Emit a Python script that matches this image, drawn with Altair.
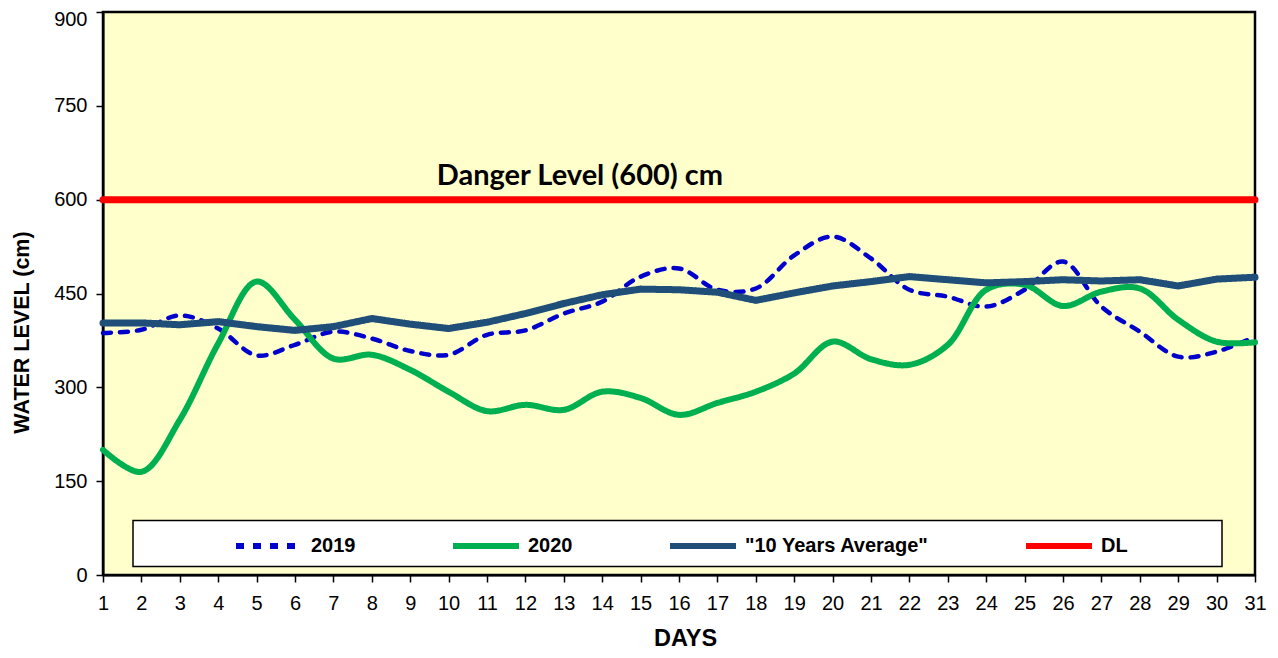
import altair as alt
import pandas as pd

days = list(range(1, 32))
level_2019 = [387, 392, 415, 394, 351, 368, 389, 378, 358, 352, 384, 391, 418, 437, 477,
              490, 456, 458, 511, 541, 506, 456, 445, 429, 456, 501, 429, 389, 349, 357, 381]
level_2020 = [200, 165, 248, 370, 469, 408, 346, 352, 328, 293, 262, 272, 264, 293, 283,
              256, 275, 293, 322, 373, 345, 336, 368, 456, 464, 430, 453, 458, 408, 373, 372]
level_avg = [403, 403, 400, 405, 397, 391, 397, 410, 401, 394, 404, 418, 434, 448, 457,
             456, 452, 439, 451, 462, 469, 477, 472, 467, 469, 472, 470, 472, 462, 473, 476]
danger_level = [600] * 31

series_names = ["2019", "2020", "\"10 Years Average\"", "DL"]
series_colors = ["#0000CC", "#00B050", "#1F4E79", "#FF0000"]
series_dash = [[8, 9], [1, 0], [1, 0], [1, 0]]

y_ticks = [0, 150, 300, 450, 600, 750, 900]

dl_label = ["Danger Level (600) cm"]
dl_label_day = [13.42]
dl_label_value = [623]

rows = []
for name, vals in zip(series_names, [level_2019, level_2020, level_avg, danger_level]):
    for d, v in zip(days, vals):
        rows.append({"day": d, "value": v, "series": name})
df = pd.DataFrame(rows)

legend = alt.Legend(
    title=None, orient="none", legendX=130, legendY=498, direction="horizontal",
    columns=4, columnPadding=85, symbolType="stroke", symbolSize=4356,
    symbolStrokeWidth=6, labelFont="Liberation Sans", labelFontSize=20,
    labelFontWeight="bold", labelColor="black", labelOffset=6, labelLimit=400,
)
color = alt.Color("series:N", scale=alt.Scale(domain=series_names, range=series_colors), legend=legend)
dash = alt.StrokeDash("series:N", scale=alt.Scale(domain=series_names, range=series_dash), legend=legend)

x_axis = alt.Axis(values=days, tickCount=31, title="DAYS", labelFlush=False, labelOverlap=False,
                  labelPadding=11,
                  titleFontSize=23.5, titleFontWeight="bold", titleX=582, titleY=70,
                  titleBaseline="alphabetic", titleAlign="center")
y_axis = alt.Axis(values=y_ticks, title="WATER LEVEL (cm)", labelPadding=9,
                  labelOffset={"condition": {"test": "datum.value == 900", "value": 7}, "value": 0},
                  titleFontSize=21.5, titleFontWeight="bold", titleX=-81, titleY=320,
                  titleBaseline="middle", titleAlign="center")
x = alt.X("day:Q", scale=alt.Scale(domain=[1, 31], nice=False, zero=False), axis=x_axis)
y = alt.Y("value:Q", scale=alt.Scale(domain=[0, 900], nice=False), axis=y_axis)

base = alt.Chart(df)


def series_layer(name, width, interp):
    return base.transform_filter(alt.datum.series == name).mark_line(
        strokeWidth=width, interpolate=interp, strokeCap="round", strokeJoin="round"
    ).encode(x=x, y=y, color=color, strokeDash=dash, detail="series:N")


box = alt.Chart(pd.DataFrame({"box": [0]})).mark_rect(
    fill="white", stroke="black", strokeWidth=1.5
).encode(x=alt.value(30), x2=alt.value(1119), y=alt.value(508.5), y2=alt.value(554.5))

label = alt.Chart(pd.DataFrame({"day": dl_label_day, "value": dl_label_value, "label": dl_label})).mark_text(
    font="Lato", fontSize=29, fontWeight="bold", align="center", baseline="alphabetic", color="black"
).encode(x=x, y=y, text="label:N")

chart = alt.layer(
    box,
    series_layer("2019", 4.5, "catmull-rom"),
    series_layer("2020", 6, "catmull-rom"),
    series_layer("\"10 Years Average\"", 7, "linear"),
    series_layer("DL", 7, "linear"),
    label,
).properties(
    width=1152, height=563,
    autosize=alt.AutoSizeParams(type="none"),
    padding={"left": 95, "top": 4, "right": 12, "bottom": 74},
    background="white",
).configure_view(
    fill="#FFFFCC", stroke="black", strokeWidth=2.5
).configure_axis(
    labelFont="Liberation Sans", labelFontSize=20, labelColor="black",
    titleFont="Liberation Sans", titleColor="black",
    tickColor="black", tickSize=7, tickWidth=1.5,
    domainColor="black", domainWidth=2, grid=False,
)

chart.save("out.html", embed_options={"renderer": "svg", "actions": False})
